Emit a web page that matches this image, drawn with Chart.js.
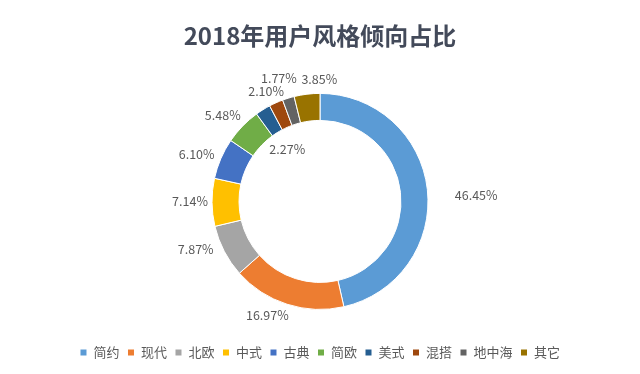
<!DOCTYPE html>
<html>
<head>
<meta charset="utf-8">
<script src="https://cdn.jsdelivr.net/npm/chart.js@4"></script>
<style>
  html, body { margin: 0; padding: 0; background: #fff; }
  #wrap { width: 640px; height: 374px; }
</style>
</head>
<body>
<div id="wrap"><canvas id="myChart"></canvas></div>
<script>
const categories = ['简约', '现代', '北欧', '中式', '古典', '简欧', '美式', '混搭', '地中海', '其它'];
const shares = [46.45, 16.97, 7.87, 7.14, 6.10, 5.48, 2.27, 2.10, 1.77, 3.85];
const colors = ['#5B9BD5', '#ED7D31', '#A5A5A5', '#FFC000', '#4472C4', '#70AD47', '#255E91', '#9E480E', '#636363', '#997300'];

const FONT = '"Noto Sans CJK SC", "Noto Sans", sans-serif';

// labels were hand-moved in the original, so each gets a small nudge
const labelNudge = [[27, 8], [-13, -10], [-9, -12], [0, -1], [-4, 4], [-4, 4], [0, 0], [-1, 9], [-3, 1], [15, 7]];

const pctLabels = {
  id: 'pctLabels',
  afterDatasetsDraw(chart) {
    const ctx = chart.ctx;
    const arcs = chart.getDatasetMeta(0).data;
    ctx.save();
    ctx.font = '12.5px ' + FONT;
    ctx.fillStyle = '#595959';
    ctx.textAlign = 'center';
    ctx.textBaseline = 'middle';
    arcs.forEach((arc, i) => {
      const p = arc.getProps(['x', 'y', 'startAngle', 'endAngle', 'innerRadius', 'outerRadius'], true);
      const mid = (p.startAngle + p.endAngle) / 2;
      // 美式 label sits inside the hole
      const r = i === 6 ? p.innerRadius - 19 : p.outerRadius + 22;
      const x = p.x + Math.cos(mid) * r + labelNudge[i][0];
      const y = p.y + Math.sin(mid) * r + labelNudge[i][1];
      ctx.fillText(shares[i].toFixed(2) + '%', x, y);
    });
    ctx.restore();
  }
};

const ctx = document.getElementById('myChart').getContext('2d');
const myChart = new Chart(ctx, {
  type: 'doughnut',
  data: {
    labels: categories,
    datasets: [{
      data: shares,
      backgroundColor: colors,
      borderColor: '#ffffff',
      borderWidth: 1
    }]
  },
  options: {
    responsive: true,
    maintainAspectRatio: false,
    animation: false,
    cutout: '75%',
    radius: 108,
    layout: { padding: { bottom: 5 } },
    plugins: {
      title: {
        display: true,
        text: '2018年用户风格倾向占比',
        color: '#434A5A',
        font: { family: FONT, size: 24, weight: 'bold' },
        padding: { top: 21, bottom: 15 }
      },
      legend: {
        position: 'bottom',
        labels: {
          color: '#595959',
          font: { family: FONT, size: 13 },
          boxWidth: 7,
          boxHeight: 7,
          padding: 8
        }
      },
      tooltip: { enabled: false }
    }
  },
  plugins: [pctLabels]
});
</script>
</body>
</html>
